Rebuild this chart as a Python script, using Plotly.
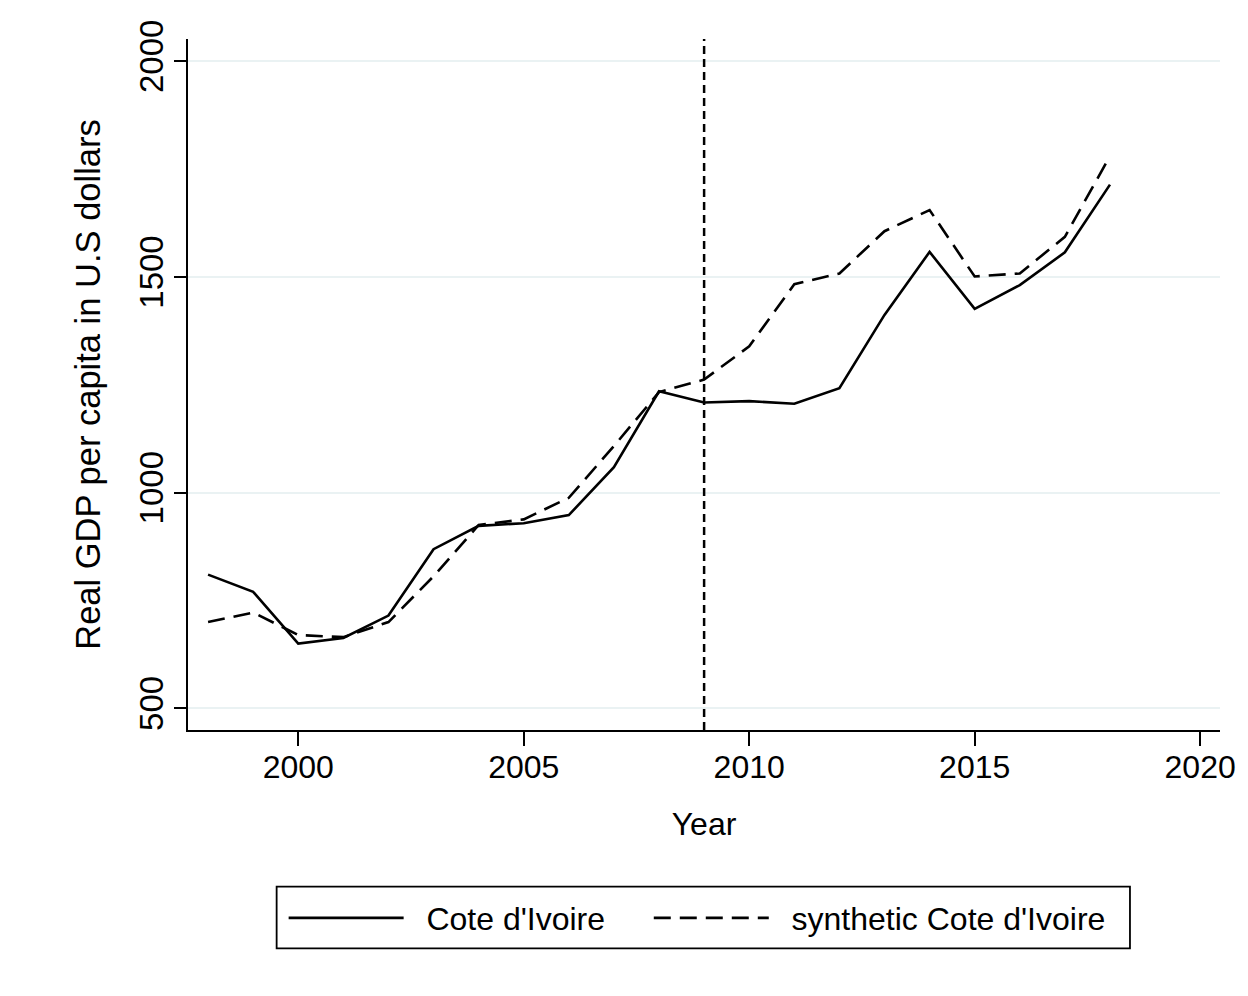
import plotly.graph_objects as go

years = list(range(1998, 2019))
cote_divoire = [810, 770, 650, 663, 715, 869, 923, 929, 948, 1059, 1235,
                1209, 1212, 1206, 1242, 1412, 1558, 1426, 1481, 1557, 1714]
synthetic = [700, 722, 670, 665, 700, 806, 925, 938, 988, 1108, 1233,
             1262, 1339, 1483, 1508, 1606, 1655, 1501, 1508, 1593, 1780]
treatment_year = 2009
x_ticks = [2000, 2005, 2010, 2015, 2020]
y_ticks = [500, 1000, 1500, 2000]
series_names = ["Cote d'Ivoire", "synthetic Cote d'Ivoire"]

FONT = "Liberation Sans, Arial, Helvetica, sans-serif"
NB = "\u00a0\u00a0"

# page body has an 8px margin; the figure is sized/offset to compensate
W, H = 1240, 988
L, R, T, B = 180.4, 28, 29, 266
PW, PH = W - L - R, H - T - B


def px_x(x):
    return (x - 8 - L) / PW


def px_y(y):
    return (H - B + 8 - y) / PH


fig = go.Figure()
fig.add_trace(go.Scatter(x=years, y=cote_divoire, mode="lines", name=NB + series_names[0],
                         line=dict(color="black", width=2.6), legend="legend"))
fig.add_trace(go.Scatter(x=years, y=synthetic, mode="lines", name=NB + series_names[1],
                         line=dict(color="black", width=2.6, dash="17px,9px"),
                         legend="legend2"))

fig.add_vline(x=treatment_year, line=dict(color="black", width=2.5, dash="8px,5px"))

# legend frame
fig.add_shape(type="rect", xref="paper", yref="paper",
              x0=px_x(277), x1=px_x(1130), y0=px_y(949), y1=px_y(887),
              line=dict(color="black", width=1.8), fillcolor="rgba(0,0,0,0)")

legend_common = dict(orientation="h", xanchor="left", y=px_y(891), yanchor="top",
                     borderwidth=0, font=dict(size=32), itemwidth=115,
                     bgcolor="rgba(0,0,0,0)")

fig.update_layout(
    width=W, height=H,
    margin=dict(l=L, r=R, t=T, b=B),
    paper_bgcolor="white", plot_bgcolor="white",
    font=dict(family=FONT, size=32, color="black"),
    showlegend=True,
    legend=dict(x=px_x(284), **legend_common),
    legend2=dict(x=px_x(649), **legend_common),
    xaxis=dict(range=[1997.555, 2020.44], tickvals=x_ticks, showgrid=False, zeroline=False,
               showline=True, linecolor="black", linewidth=1.6, ticks="outside",
               ticklen=14, tickwidth=1.6, tickcolor="black",
               tickfont=dict(size=32), ticklabelstandoff=-6,
               title=dict(text="Year", font=dict(size=32), standoff=28)),
    yaxis=dict(range=[449.8, 2051.5], tickvals=y_ticks, showgrid=True, gridcolor="#eaf2f3",
               gridwidth=2, zeroline=False, showline=True, linecolor="black", linewidth=1.6,
               ticks="outside", ticklen=12, tickwidth=1.6, tickcolor="black",
               tickangle=-90, tickfont=dict(size=33), ticklabelstandoff=-2,
               title=dict(text="Real GDP per capita in U.S dollars", font=dict(size=34.5),
                          standoff=22)),
)

fig.write_html("out.html")
